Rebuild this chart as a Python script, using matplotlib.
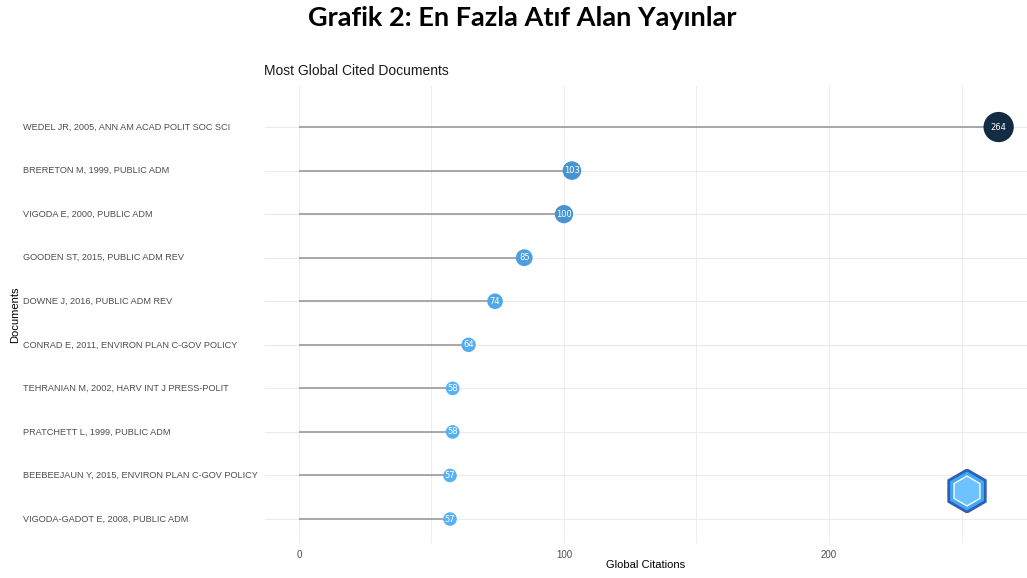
import numpy as np
import matplotlib.pyplot as plt
import matplotlib.colors as mcolors
from matplotlib.patches import RegularPolygon
from matplotlib.transforms import blended_transform_factory

# data (top to bottom as in the chart)
documents = [
    "WEDEL JR, 2005, ANN AM ACAD POLIT SOC SCI",
    "BRERETON M, 1999, PUBLIC ADM",
    "VIGODA E, 2000, PUBLIC ADM",
    "GOODEN ST, 2015, PUBLIC ADM REV",
    "DOWNE J, 2016, PUBLIC ADM REV",
    "CONRAD E, 2011, ENVIRON PLAN C-GOV POLICY",
    "TEHRANIAN M, 2002, HARV INT J PRESS-POLIT",
    "PRATCHETT L, 1999, PUBLIC ADM",
    "BEEBEEJAUN Y, 2015, ENVIRON PLAN C-GOV POLICY",
    "VIGODA-GADOT E, 2008, PUBLIC ADM",
]
citations = [264, 103, 100, 85, 74, 64, 58, 58, 57, 57]
x_ticks = [0, 100, 200]

W, H = 1027, 578
fig = plt.figure(figsize=(W / 100, H / 100), dpi=100)
fig.patch.set_facecolor("white")

ax = fig.add_axes([265 / W, 1 - 543 / H, (W - 265) / W, (543 - 85) / H])

n = len(documents)
ypos = np.arange(n)[::-1]  # first document at top
vals = np.array(citations)

# ggplot-like gradient: light blue for low, dark navy for high
cmap = mcolors.LinearSegmentedColormap.from_list("gg", ["#56B1F7", "#132B43"])
norm = mcolors.Normalize(vmin=vals.min(), vmax=vals.max())
sizes = 95 + (vals - vals.min()) / (vals.max() - vals.min()) * 380

ax.hlines(ypos, 0, vals, color="#9a9a9a", lw=1.2, zorder=2)
ax.scatter(vals, ypos, s=sizes, c=cmap(norm(vals)), zorder=3, edgecolors="none")
for v, y in zip(vals, ypos):
    ax.text(v, y, str(v), color="white", fontsize=6, ha="center", va="center",
            zorder=4, family="Liberation Sans Narrow")

ax.set_xlim(-12.8, 274.7)
ax.set_ylim(-0.55, n - 1 + 0.965)
ax.set_xticks(x_ticks)
ax.set_xticks([50, 150, 250], minor=True)
ax.set_yticks(ypos)
ax.set_yticklabels([])
ax.tick_params(axis="both", which="both", length=0)
ax.tick_params(axis="x", labelsize=7, labelcolor="#4d4d4d", pad=5)
for lbl in ax.get_xticklabels():
    lbl.set_family("Liberation Sans")
ax.grid(True, which="both", axis="x", color="#eeeeee", lw=0.8)
ax.grid(True, which="major", axis="y", color="#ebebeb", lw=0.8)
ax.set_axisbelow(True)
for s in ax.spines.values():
    s.set_visible(False)

# document labels, left aligned at the figure edge
tr = blended_transform_factory(fig.transFigure, ax.transData)
for name, y in zip(documents, ypos):
    ax.text(23 / W, y, name, transform=tr, fontsize=6.6, color="#4d4d4d",
            ha="left", va="center", family="Liberation Sans")

ax.set_xlabel("Global Citations", fontsize=8, labelpad=0, family="Liberation Sans")
fig.text(15 / W, 1 - 315 / H, "Documents", rotation=90, fontsize=8,
         ha="center", va="center", family="Liberation Sans")
fig.text(264 / W, 1 - 71 / H, "Most Global Cited Documents", fontsize=10,
         ha="left", va="center", color="#1a1a1a", family="Liberation Sans")
fig.text(522 / W, 1 - 18 / H, "Grafik 2: En Fazla Atıf Alan Yayınlar", fontsize=19.5,
         fontweight="bold", ha="center", va="center", family="Lato")

# simple stand-in for the bibliometrix logo
lax = fig.add_axes([945 / W, 1 - 516 / H, 44 / W, 50 / H])
lax.add_patch(RegularPolygon((0.5, 0.5), 6, radius=0.48, orientation=0,
                             facecolor="#3fa9f5", edgecolor="#2f5fb3", lw=2))
lax.add_patch(RegularPolygon((0.5, 0.5), 6, radius=0.34, orientation=0,
                             facecolor="#6cc3ff", edgecolor="white", lw=1))
lax.set_xlim(0, 1)
lax.set_ylim(0, 1)
lax.set_aspect("equal")
lax.axis("off")

fig.savefig("out.png", dpi=100)
